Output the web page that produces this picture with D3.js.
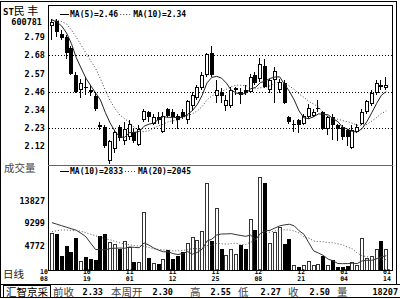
<!DOCTYPE html>
<html>
<head>
<meta charset="utf-8">
<script src="https://cdn.jsdelivr.net/npm/d3@7"></script>
<style>
  body { margin: 0; background: #fff; }
  .num { font-family: "DejaVu Sans Mono", monospace; font-weight: bold; }
  .cjk { font-family: "Noto Sans CJK SC", sans-serif; }
</style>
</head>
<body>
<div id="chart"></div>
<script>
// daily bars, 10/08 .. 01/14
var opens = [2.87,2.90,2.82,2.80,2.73,2.56,2.47,2.49,2.47,2.43, 2.25,2.24,2.03,2.10,2.24,2.15,2.18,2.21,2.13,2.28,
  2.33,2.26,2.30,2.21,2.35,2.33,2.31,2.33,2.28,2.37, 2.42,2.48,2.56,2.70,2.43,2.46,2.37,2.37,2.47,2.46,
  2.47,2.46,2.56,2.54,2.62,2.47,2.53,2.47,2.51,2.30, 2.25,2.28,2.26,2.30,2.31,2.35,2.33,2.23,2.30,2.25,
  2.24,2.22,2.11,2.21,2.26,2.33,2.38,2.45,2.50,2.48];
var closes = [2.89,2.83,2.79,2.70,2.57,2.46,2.51,2.48,2.46,2.35, 2.24,2.12,2.15,2.21,2.17,2.23,2.26,2.15,2.23,2.34,
  2.30,2.30,2.28,2.31,2.31,2.30,2.28,2.30,2.40,2.44, 2.49,2.56,2.69,2.56,2.47,2.43,2.41,2.47,2.48,2.44,
  2.45,2.55,2.51,2.63,2.49,2.53,2.59,2.52,2.39,2.27, 2.26,2.25,2.31,2.36,2.33,2.36,2.23,2.30,2.25,2.23,
  2.18,2.18,2.22,2.24,2.33,2.40,2.45,2.51,2.49,2.50];
var highs = [2.91,2.91,2.84,2.81,2.74,2.58,2.54,2.55,2.50,2.46, 2.27,2.25,2.16,2.22,2.25,2.27,2.28,2.23,2.25,2.35,
  2.34,2.32,2.33,2.33,2.36,2.35,2.32,2.35,2.41,2.46, 2.50,2.58,2.70,2.74,2.53,2.48,2.44,2.49,2.49,2.48,
  2.50,2.57,2.58,2.67,2.66,2.54,2.61,2.54,2.53,2.31, 2.28,2.29,2.32,2.38,2.35,2.41,2.34,2.31,2.32,2.26,
  2.25,2.23,2.25,2.26,2.35,2.41,2.47,2.53,2.53,2.55];
var lows = [2.78,2.80,2.78,2.66,2.56,2.45,2.42,2.44,2.43,2.34, 2.22,2.11,2.01,2.08,2.15,2.13,2.16,2.14,2.12,2.27,
  2.27,2.25,2.26,2.20,2.30,2.26,2.23,2.29,2.26,2.34, 2.41,2.47,2.55,2.55,2.39,2.39,2.34,2.36,2.44,2.38,
  2.44,2.45,2.50,2.52,2.48,2.45,2.39,2.45,2.38,2.26, 2.21,2.20,2.25,2.29,2.30,2.33,2.22,2.19,2.16,2.15,
  2.16,2.12,2.10,2.20,2.25,2.32,2.37,2.44,2.47,2.47];
var volumes = [7300,7160,2780,4830,3580,6420,1850,2580,2190,1990, 6760,7100,5510,5170,4170,5770,4630,1590,1590,11470,
  2450,1330,1190,2130,3980,2250,2720,3640,5310,6500, 5900,7810,17360,5830,12270,4170,2920,4170,3240,4970,
  4170,10200,7950,18550,17360,5310,7500,8490,5170,6160, 990,540,930,1730,1050,1130,2780,1050,2050,660,
  660,800,1530,1050,6420,2330,2720,4230,5830,4120];

// moving averages
var ma5 = [2.905,2.892,2.867,2.824,2.758,2.671,2.606,2.543,2.496,2.451, 2.407,2.330,2.264,2.213,2.177,2.176,2.204,2.206,2.211,2.244,
  2.257,2.263,2.288,2.304,2.299,2.300,2.296,2.301,2.318,2.342, 2.380,2.437,2.514,2.548,2.554,2.543,2.512,2.468,2.451,2.444,
  2.448,2.477,2.485,2.515,2.525,2.541,2.550,2.551,2.504,2.461, 2.407,2.339,2.296,2.291,2.303,2.321,2.318,2.315,2.291,2.273,
  2.237,2.226,2.211,2.209,2.229,2.273,2.328,2.386,2.437,2.460];
var ma10 = [2.905,2.902,2.895,2.880,2.842,2.799,2.749,2.699,2.650,2.604, 2.539,2.468,2.403,2.354,2.314,2.291,2.267,2.235,2.212,2.211,
  2.216,2.234,2.247,2.257,2.272,2.278,2.280,2.295,2.311,2.321, 2.340,2.367,2.408,2.433,2.448,2.461,2.474,2.491,2.499,2.499,
  2.495,2.494,2.477,2.483,2.485,2.495,2.513,2.518,2.510,2.493, 2.474,2.444,2.424,2.398,2.382,2.364,2.328,2.306,2.291,2.288,
  2.279,2.272,2.263,2.250,2.251,2.255,2.276,2.298,2.323,2.340];
var volMa10 = [9400,9100,8800,8500,8200,7900,7300,6600,5300,4070, 4010,4010,4280,4320,4370,4310,4590,4490,4430,5380,
  4950,4370,3940,3630,3610,3260,3070,3280,3650,3150, 3500,4140,5760,6130,6960,7150,7170,7220,7020,6860,
  6690,6930,5990,7260,7770,7880,8340,8770,8970,9090, 8770,7800,7100,5420,3790,3370,2900,2150,1840,1290,
  1260,1280,1340,1280,1810,1930,1930,2250,2620,2833];
var volMa20 = [7600,7800,7950,7950,7900,7850,7700,7400,7100,6800, 6500,6200,6000,5700,5400,5200,5000,4850,4750,4720,
  4480,4190,4110,3970,3990,3790,3830,3880,4040,4260, 4220,4260,4850,4880,5290,5210,5120,5250,5330,5010,
  5090,5540,5880,6700,7370,7520,7760,8000,7990,7980, 7730,7370,6550,6340,5780,5630,5620,5460,5400,5190,
  5010,4540,4220,3350,2800,2650,2410,2250,2130,2045];

// axis ticks
var priceTicks = [2.12, 2.233, 2.347, 2.46, 2.573, 2.687, 2.80];
var priceTickLabels = ["2.12", "2.23", "2.34", "2.46", "2.57", "2.68", "2.79"];
var priceGrid = [2.233, 2.46, 2.687];
var volTicks = [4772, 9299, 13827];
var dateMonths = ["10", "10", "11", "11", "11", "12", "12", "01", "01"];
var dateDays = ["08", "19", "01", "12", "25", "08", "21", "04", "14"];

// status bar
var statusNames = ["前收", "本周开", "高", "低", "收", "量"];
var statusValues = ["2.33", "2.30", "2.55", "2.27", "2.50", "18207"];

var svgWidth = 400;
var svgHeight = 299;
var plotLeft = 48, plotRight = 393, plotTop = 5, priceBottom = 165, volBottom = 270;

var svg = d3.select('#chart')
  .append('svg')
  .attr('width', svgWidth)
  .attr('height', svgHeight)
  .style('background', '#fff');

var idx = d3.range(closes.length);
var xScale = d3.scaleLinear().domain([0, closes.length - 1]).range([52, 386.3]);
var yPrice = d3.scaleLinear().domain([2.12, 2.80]).range([146.2, 36.8]);
var yVol = d3.scaleLinear().domain([0, 13827]).range([volBottom, 200.4]);

function left(i) { return Math.round(xScale(i)) - 2; }
function isUp(i) { return closes[i] >= opens[i]; }

// gridlines
svg.append('g').selectAll('line')
  .data(priceGrid)
  .enter()
  .append('line')
  .attr('x1', plotLeft + 1).attr('x2', plotRight)
  .attr('y1', function(d) { return Math.round(yPrice(d)) + 0.5; })
  .attr('y2', function(d) { return Math.round(yPrice(d)) + 0.5; })
  .attr('stroke', '#000')
  .attr('stroke-dasharray', '1,2');

// candles
var candles = svg.append('g').attr('shape-rendering', 'crispEdges');
candles.selectAll('.wick')
  .data(idx)
  .enter()
  .append('line')
  .attr('class', 'wick')
  .attr('x1', function(d) { return left(d) + 1.5; })
  .attr('x2', function(d) { return left(d) + 1.5; })
  .attr('y1', function(d) { return yPrice(highs[d]); })
  .attr('y2', function(d) { return yPrice(lows[d]); })
  .attr('stroke', '#000');

function bodyTop(d) { return Math.round(yPrice(Math.max(opens[d], closes[d]))); }
function bodyH(d) { return Math.max(1, Math.round(yPrice(Math.min(opens[d], closes[d]))) - bodyTop(d)); }

candles.selectAll('.body')
  .data(idx)
  .enter()
  .append('rect')
  .attr('class', 'body')
  .attr('x', left)
  .attr('y', bodyTop)
  .attr('width', 4)
  .attr('height', bodyH)
  .attr('fill', '#000');

candles.selectAll('.hole')
  .data(idx.filter(function(d) { return isUp(d) && bodyH(d) > 2; }))
  .enter()
  .append('rect')
  .attr('class', 'hole')
  .attr('x', function(d) { return left(d) + 1; })
  .attr('y', function(d) { return bodyTop(d) + 1; })
  .attr('width', 2)
  .attr('height', function(d) { return bodyH(d) - 2; })
  .attr('fill', '#fff');

// price moving averages
var priceLine = function(arr) {
  return d3.line()
    .x(function(d) { return xScale(d); })
    .y(function(d) { return yPrice(arr[d]); })(idx);
};
svg.append('path').attr('d', priceLine(ma5)).attr('fill', 'none').attr('stroke', '#222').attr('stroke-width', 1);
svg.append('path').attr('d', priceLine(ma10)).attr('fill', 'none').attr('stroke', '#444')
  .attr('stroke-width', 1).attr('stroke-dasharray', '1,2');

// volume bars
var bars = svg.append('g').attr('shape-rendering', 'crispEdges');
function volTop(d) { return Math.round(yVol(volumes[d])); }
bars.selectAll('.vbar')
  .data(idx)
  .enter()
  .append('rect')
  .attr('x', left)
  .attr('y', volTop)
  .attr('width', 4)
  .attr('height', function(d) { return volBottom - volTop(d); })
  .attr('fill', function(d) { return isUp(d) ? '#333' : '#000'; });
bars.selectAll('.vhole')
  .data(idx.filter(isUp))
  .enter()
  .append('rect')
  .attr('x', function(d) { return left(d) + 1; })
  .attr('y', function(d) { return volTop(d) + 1; })
  .attr('width', 2)
  .attr('height', function(d) { return Math.max(0, volBottom - volTop(d) - 1); })
  .attr('fill', '#fff');

var volLine = function(arr) {
  return d3.line()
    .x(function(d) { return xScale(d); })
    .y(function(d) { return yVol(arr[d]); })(idx);
};
svg.append('path').attr('d', volLine(volMa10)).attr('fill', 'none').attr('stroke', '#333');
svg.append('path').attr('d', volLine(volMa20)).attr('fill', 'none').attr('stroke', '#555')
  .attr('stroke-dasharray', '1,2');

// left axes
var priceAxis = d3.axisLeft(yPrice)
  .tickValues(priceTicks)
  .tickSize(0)
  .tickPadding(3)
  .tickFormat(function(d, i) { return priceTickLabels[i]; });
svg.append('g')
  .attr('transform', 'translate(' + plotLeft + ',0)')
  .call(priceAxis)
  .call(function(g) { g.select('.domain').remove(); })
  .selectAll('text')
  .attr('class', 'num')
  .attr('font-size', 8.5)
  .attr('fill', '#000');

var volAxis = d3.axisLeft(yVol).tickValues(volTicks).tickSize(0).tickPadding(3).tickFormat(d3.format('d'));
svg.append('g')
  .attr('transform', 'translate(' + plotLeft + ',0)')
  .call(volAxis)
  .call(function(g) { g.select('.domain').remove(); })
  .selectAll('text')
  .attr('class', 'num')
  .attr('font-size', 8.5)
  .attr('fill', '#000');

// dates along the bottom
var dateScale = d3.scalePoint().domain(d3.range(dateDays.length)).range([44, 387]);
var dates = svg.append('g').attr('class', 'num').attr('font-size', 6.5).attr('text-anchor', 'middle');
dates.selectAll('.m').data(d3.range(dateDays.length)).enter().append('text')
  .attr('x', function(d) { return dateScale(d); }).attr('y', 274)
  .text(function(d) { return dateMonths[d]; });
dates.selectAll('.d').data(d3.range(dateDays.length)).enter().append('text')
  .attr('x', function(d) { return dateScale(d); }).attr('y', 280.5)
  .text(function(d) { return dateDays[d]; });

// titles and legends
var title = svg.append('text').attr('x', 3).attr('y', 15);
title.append('tspan').attr('class', 'num').attr('font-size', 9).text('ST');
title.append('tspan').attr('class', 'cjk').attr('font-size', 11).text('民 丰');
svg.append('text').attr('class', 'num').attr('font-size', 8.5).attr('x', 42).attr('y', 25)
  .attr('text-anchor', 'end').text('600781');
svg.append('text').attr('class', 'cjk').attr('font-size', 10.5).attr('fill', '#444')
  .attr('x', 4).attr('y', 172).text('成交量');
svg.append('text').attr('class', 'cjk').attr('font-size', 10.5).attr('fill', '#222')
  .attr('x', 3).attr('y', 278).text('日线');

function legend(y, a, b) {
  svg.append('line').attr('x1', 60).attr('x2', 69).attr('y1', y - 2.5).attr('y2', y - 2.5).attr('stroke', '#000');
  svg.append('text').attr('class', 'num').attr('font-size', 8).attr('x', 70).attr('y', y).text(a);
  var w = a.length * 4.82;
  svg.append('line').attr('x1', 72 + w).attr('x2', 83 + w).attr('y1', y - 2.5).attr('y2', y - 2.5)
    .attr('stroke', '#444').attr('stroke-dasharray', '1,2');
  svg.append('text').attr('class', 'num').attr('font-size', 8).attr('x', 85 + w).attr('y', y).text(b);
}
legend(17, 'MA(5)=' + ma5[ma5.length - 1].toFixed(2), 'MA(10)=' + ma10[ma10.length - 1].toFixed(2));
legend(174, 'MA(10)=' + volMa10[volMa10.length - 1], 'MA(20)=' + volMa20[volMa20.length - 1]);

// status bar
var nameX = [53, 111, 190, 238, 288, 337];
var valueX = [103, 173, 231, 281, 330, 398];
var statusBar = svg.append('g');
statusBar.selectAll('.sn').data(statusNames).enter().append('text')
  .attr('class', 'cjk').attr('font-size', 10.5).attr('fill', '#444')
  .attr('x', function(d, i) { return nameX[i]; }).attr('y', 295.5)
  .text(function(d) { return d; });
statusBar.selectAll('.sv').data(statusValues).enter().append('text')
  .attr('class', 'num').attr('font-size', 8.5).attr('text-anchor', 'end')
  .attr('x', function(d, i) { return valueX[i]; }).attr('y', 294.5)
  .text(function(d) { return d; });
svg.append('rect').attr('x', 3.5).attr('y', 285.5).attr('width', 47).attr('height', 12)
  .attr('fill', 'none').attr('stroke', '#000');
svg.append('text').attr('class', 'cjk').attr('font-size', 10.5).attr('x', 6).attr('y', 295.5).text('汇智京采');

// frames
var frame = svg.append('g').attr('stroke', '#000').attr('fill', 'none').attr('shape-rendering', 'crispEdges');
frame.append('line').attr('x1', 0.5).attr('x2', 0.5).attr('y1', 1).attr('y2', 298);
frame.append('line').attr('x1', 0).attr('x2', 397).attr('y1', 1.5).attr('y2', 1.5);
frame.append('line').attr('x1', 396.5).attr('x2', 396.5).attr('y1', 1).attr('y2', 285);
frame.append('line').attr('x1', 0).attr('x2', 400).attr('y1', 284.5).attr('y2', 284.5);
frame.append('line').attr('x1', 0).attr('x2', 400).attr('y1', 297.5).attr('y2', 297.5);
frame.append('rect').attr('x', plotLeft + 0.5).attr('y', plotTop + 0.5)
  .attr('width', plotRight - plotLeft - 1).attr('height', volBottom - plotTop);
frame.append('line').attr('x1', plotLeft).attr('x2', plotRight).attr('y1', priceBottom + 0.5).attr('y2', priceBottom + 0.5)
  .attr('stroke', '#666');
</script>
</body>
</html>
